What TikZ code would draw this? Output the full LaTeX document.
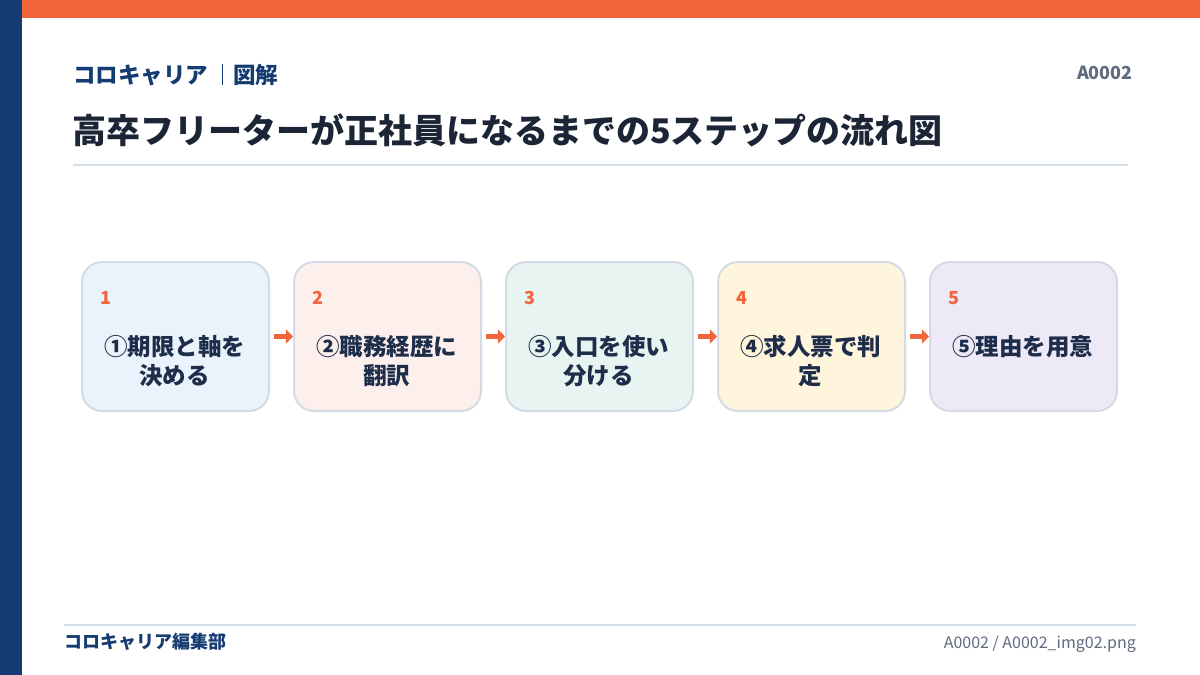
\documentclass[tikz,border=0pt]{standalone}
\usepackage{fontspec}
\setmainfont{Noto Sans CJK JP}
\usetikzlibrary{arrows.meta}
\definecolor{accent}{HTML}{F0653C}
\definecolor{navy}{HTML}{143C72}
\definecolor{ink}{HTML}{1C2536}
\definecolor{boxink}{HTML}{1E2D4A}
\definecolor{graytext}{HTML}{5F6B7E}
\definecolor{rulecol}{HTML}{D5DFEA}
\definecolor{boxline}{HTML}{D3DCE6}
\definecolor{fillA}{HTML}{EAF2FB}
\definecolor{fillB}{HTML}{FDF0EC}
\definecolor{fillC}{HTML}{E8F4F2}
\definecolor{fillD}{HTML}{FEF5DC}
\definecolor{fillE}{HTML}{EDE9F7}
\tikzset{
  stepbox/.style={draw=boxline, line width=2pt, rounded corners=20pt,
    minimum width=187pt, minimum height=149pt, inner sep=0pt, anchor=north west},
  numlabel/.style={text=accent, font=\bfseries\fontsize{18}{20}\selectfont, anchor=base west, inner sep=0pt},
  steptext/.style={text=boxink, font=\bfseries\fontsize{23.5}{29}\selectfont, align=center, anchor=north, inner sep=0pt},
  flowarrow/.style={draw=accent, line width=5.5pt, -{Triangle[width=14pt,length=7pt]}, shorten <=4pt},
}
\begin{document}
\begin{tikzpicture}[x=1pt,y=-1pt]
\useasboundingbox (0,0) rectangle (1200,675);
\fill[white] (0,0) rectangle (1200,675);
% bars
\fill[accent] (22,0) rectangle (1200,18);
\fill[navy] (0,0) rectangle (22,675);
% header
\node[anchor=base west, inner sep=0pt, text=navy, font=\bfseries\fontsize{22.5}{26}\selectfont] (brand) at (73,83) {コロキャリア};
\draw[navy, line width=1pt] (222,64) -- (222,85);
\node[anchor=base west, inner sep=0pt, text=navy, font=\bfseries\fontsize{22.5}{26}\selectfont] (kind) at (233,83) {図解};
\node[anchor=base east, inner sep=0pt, text=graytext, font=\bfseries\fontsize{18}{20}\selectfont] (code) at (1133,79) {A0002};
\node[anchor=base west, inner sep=0pt, text=ink, font=\bfseries\fontsize{34}{40}\selectfont] (title) at (72,143) {高卒フリーターが正社員になるまでの5ステップの流れ図};
\draw[rulecol, line width=2pt] (73,165) -- (1128,165);
% boxes
\node[stepbox, fill=fillA] (b1) at (81,261) {};
\node[stepbox, fill=fillB] (b2) at (293,261) {};
\node[stepbox, fill=fillC] (b3) at (505,261) {};
\node[stepbox, fill=fillD] (b4) at (717,261) {};
\node[stepbox, fill=fillE] (b5) at (929,261) {};
% numbers
\node[numlabel] (n1) at (100,304) {1};
\node[numlabel] (n2) at (312,304) {2};
\node[numlabel] (n3) at (524,304) {3};
\node[numlabel] (n4) at (736,304) {4};
\node[numlabel] (n5) at (948,304) {5};
% texts
\node[steptext] (t1) at (174.5,335) {①期限と軸を\\決める};
\node[steptext] (t2) at (386.5,335) {②職務経歴に\\翻訳};
\node[steptext] (t3) at (598.5,335) {③入口を使い\\分ける};
\node[steptext] (t4) at (810.5,335) {④求人票で判\\定};
\node[steptext] (t5) at (1022.5,335) {⑤理由を用意};
% arrows
\draw[flowarrow] (b1.east) -- (b2.west);
\draw[flowarrow] (b2.east) -- (b3.west);
\draw[flowarrow] (b3.east) -- (b4.west);
\draw[flowarrow] (b4.east) -- (b5.west);
% footer
\draw[rulecol, line width=2pt] (64,625) -- (1136,625);
\node[anchor=base west, inner sep=0pt, text=navy, font=\bfseries\fontsize{18}{20}\selectfont] (team) at (64,648) {コロキャリア編集部};
\node[anchor=base east, inner sep=0pt, text=graytext, font=\fontsize{16}{18}\selectfont] (file) at (1136,648) {A0002 / A0002\_img02.png};
\end{tikzpicture}
\end{document}
